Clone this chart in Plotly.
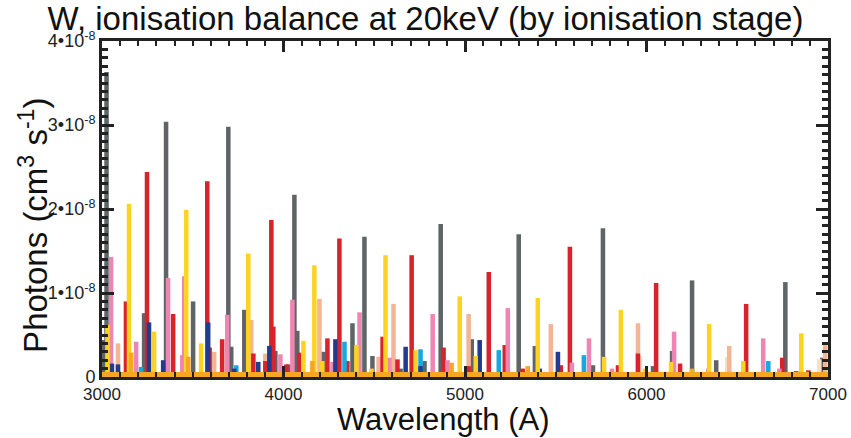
import plotly.graph_objects as go

# ---- data (wavelength in Angstrom, photons in cm^3 s^-1) ----
gray_wl = [3006, 3025, 3232, 3353, 3502, 3696, 3712, 3784, 3955, 4027, 4060, 4076, 4220, 4380,
           4446, 4490, 4645, 4777, 4866, 5037, 5296, 5385, 5705, 5760, 6036, 6141, 6251, 6384,
           6765, 6969]
gray_val = [0.44e-8, 3.63e-8, 0.76e-8, 3.04e-8, 0.90e-8, 2.98e-8, 0.36e-8, 0.80e-8, 0.31e-8,
            0.15e-8, 2.17e-8, 0.55e-8, 0.30e-8, 0.64e-8, 1.67e-8, 0.25e-8, 0.10e-8, 0.19e-8,
            1.82e-8, 0.45e-8, 1.70e-8, 0.37e-8, 0.14e-8, 1.77e-8, 0.13e-8, 0.31e-8, 1.15e-8,
            0.20e-8, 1.13e-8, 0.23e-8]

beige_wl = [5964, 6445, 6952]
beige_val = [0.25e-8, 0.24e-8, 0.21e-8]

salmon_wl = [3088, 3618, 3822, 3900, 4198, 4524, 4606, 5020, 5473, 5953, 6456, 6594, 6985]
salmon_val = [0.40e-8, 0.30e-8, 0.68e-8, 0.28e-8, 0.93e-8, 0.24e-8, 0.87e-8, 0.75e-8, 0.63e-8,
              0.64e-8, 0.37e-8, 0.06e-8, 0.38e-8]

red_wl = [3132, 3248, 3392, 3580, 3593, 3662, 3834, 3900, 3933, 3944, 4016, 4087, 4242, 4308,
          4352, 4546, 4628, 4706, 4882, 5020, 5131, 5219, 5318, 5528, 5578, 5843, 5953, 6053,
          6185, 6494, 6549, 6748, 6825, 6892]
red_val = [0.90e-8, 2.44e-8, 0.75e-8, 2.33e-8, 0.35e-8, 0.45e-8, 0.28e-8, 0.19e-8, 1.87e-8,
           0.60e-8, 0.15e-8, 0.29e-8, 0.46e-8, 1.65e-8, 0.19e-8, 0.48e-8, 0.21e-8, 1.45e-8,
           0.35e-8, 0.13e-8, 1.25e-8, 0.38e-8, 0.10e-8, 0.14e-8, 1.55e-8, 0.14e-8, 0.28e-8,
           1.12e-8, 0.16e-8, 0.06e-8, 0.87e-8, 0.23e-8, 0.07e-8, 0.08e-8]

pink_wl = [3050, 3188, 3364, 3442, 3453, 3690, 3983, 4049, 4270, 4419, 4584, 4822, 4904, 5236,
           5589, 5683, 5810, 6152, 6340, 6643, 6732]
pink_val = [1.43e-8, 0.42e-8, 1.18e-8, 0.26e-8, 1.20e-8, 0.74e-8, 0.27e-8, 0.92e-8, 0.18e-8,
            0.77e-8, 0.23e-8, 0.75e-8, 0.20e-8, 0.82e-8, 0.17e-8, 0.46e-8, 0.10e-8, 0.54e-8,
            0.10e-8, 0.46e-8, 0.10e-8]

cyan_wl = [3215, 3740, 4336, 4755, 5186, 5655, 6671]
cyan_val = [0.12e-8, 0.14e-8, 0.42e-8, 0.33e-8, 0.32e-8, 0.26e-8, 0.19e-8]

navy_wl = [3055, 3088, 3259, 3337, 3585, 3729, 3861, 3922, 4286, 4673, 4755, 5081, 5412, 5512]
navy_val = [0.16e-8, 0.15e-8, 0.65e-8, 0.20e-8, 0.65e-8, 0.10e-8, 0.18e-8, 0.37e-8, 0.45e-8,
            0.36e-8, 0.13e-8, 0.44e-8, 0.10e-8, 0.30e-8]

yellow_wl = [3030, 3149, 3287, 3464, 3546, 3806, 4110, 4170, 4214, 4402, 4485, 4562, 4728, 4971,
             5059, 5401, 5766, 5859, 5992, 6135, 6345, 6533, 6853]
yellow_val = [0.62e-8, 2.06e-8, 0.54e-8, 1.99e-8, 0.40e-8, 1.47e-8, 0.43e-8, 1.33e-8, 0.19e-8,
              0.38e-8, 0.10e-8, 1.45e-8, 0.32e-8, 0.96e-8, 0.25e-8, 0.94e-8, 0.24e-8, 0.80e-8,
              0.10e-8, 0.18e-8, 0.63e-8, 0.19e-8, 0.52e-8]

orange_wl = [3160, 3475, 4159, 4926, 5346, 6251]
orange_val = [0.29e-8, 0.24e-8, 0.19e-8, 0.17e-8, 0.13e-8, 0.10e-8]

baseline_wl = [3000, 7000]
baseline_val = [0.0, 0.0]

y_tick_vals = [0, 1e-8, 2e-8, 3e-8, 4e-8]
y_tick_text = ["0", "1\u202210<sup>-8</sup>", "2\u202210<sup>-8</sup>",
               "3\u202210<sup>-8</sup>", "4\u202210<sup>-8</sup>"]
x_tick_vals = [3000, 4000, 5000, 6000, 7000]

series = [
    (gray_wl, gray_val, "#5f6567"),
    (beige_wl, beige_val, "#f8dfc3"),
    (salmon_wl, salmon_val, "#f3b595"),
    (red_wl, red_val, "#d8232c"),
    (pink_wl, pink_val, "#ee86b4"),
    (cyan_wl, cyan_val, "#14a9e2"),
    (navy_wl, navy_val, "#233b8d"),
    (yellow_wl, yellow_val, "#fcd321"),
    (orange_wl, orange_val, "#f6a623"),
]

fig = go.Figure()
for wl, val, col in series:
    fig.add_trace(go.Bar(x=wl, y=val, width=25, marker=dict(color=col, line=dict(width=0)),
                         showlegend=False))

fig.add_trace(go.Scatter(x=baseline_wl, y=baseline_val, mode="lines",
                         line=dict(color="#f6a623", width=10), showlegend=False))

font_family = "Liberation Sans, Arial, Helvetica, sans-serif"
fig.update_layout(
    width=851, height=438,
    margin=dict(l=102, r=23, t=41, b=61, autoexpand=False),
    paper_bgcolor="white", plot_bgcolor="white",
    barmode="overlay",
    font=dict(family=font_family, color="#222222"),
    title=dict(text="W, ionisation balance at 20keV (by ionisation stage)",
               x=0.5, xanchor="center", y=0.957, yanchor="middle",
               font=dict(size=33, color="#111111")),
    annotations=[
        dict(text="Wavelength (A)", xref="paper", yref="paper", x=0.4697, y=-0.126,
             xanchor="center", yanchor="middle", showarrow=False,
             font=dict(size=31, color="#111111")),
        dict(text="Photons (cm<sup>3</sup> s<sup>-1</sup>)", xref="paper", yref="paper",
             x=-0.094, y=0.452, xanchor="center", yanchor="middle", textangle=-90,
             showarrow=False, font=dict(size=33, color="#111111")),
    ],
)
fig.update_xaxes(
    range=[3000, 7000], tickvals=x_tick_vals, ticks="inside", ticklen=11, tickwidth=2.5,
    tickcolor="#222222", showline=True, linewidth=3, linecolor="#222222", mirror="allticks",
    showgrid=False, zeroline=False, tickfont=dict(size=17, color="#222222"), automargin=False,
    minor=dict(dtick=100, ticks="inside", ticklen=5, tickwidth=2, tickcolor="#222222"),
)
fig.update_yaxes(
    range=[0, 4e-8], tickvals=y_tick_vals, ticktext=y_tick_text, ticks="inside", ticklen=12,
    tickwidth=2.5, tickcolor="#222222", showline=True, linewidth=3, linecolor="#222222",
    mirror="allticks", showgrid=False, zeroline=False, tickfont=dict(size=18, color="#222222"),
    automargin=False,
    minor=dict(dtick=1e-9, ticks="inside", ticklen=6, tickwidth=2.5, tickcolor="#222222"),
)

fig.write_html("out.html")
